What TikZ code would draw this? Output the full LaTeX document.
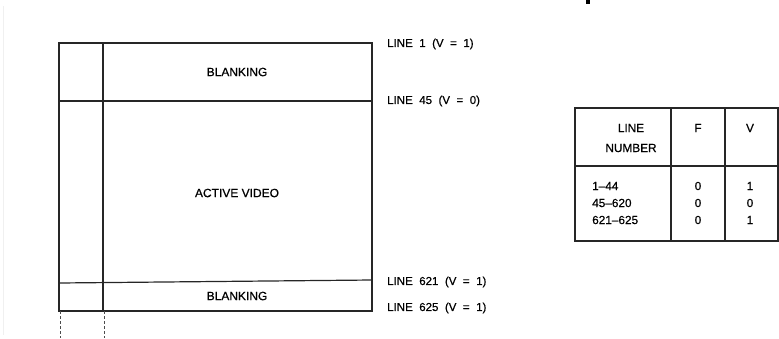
\documentclass[tikz,border=0pt]{standalone}
\usepackage{fontspec}
\setmainfont{Liberation Sans}
\newfontfamily\scanfont{Liberation Sans}[FakeBold=0.6,Ligatures=TeX]
\newcommand{\widespaces}{\spaceskip 6.5pt plus 1pt\relax}
\begin{document}
\begin{tikzpicture}[x=1pt,y=-1pt,
  frame/.style={line width=1.2pt,black!85},
  ext/.style={line width=1pt,black!70,dash pattern=on 3pt off 2pt},
  boxtext/.style={font={\scanfont\fontsize{12}{14}\selectfont},inner sep=0pt},
  linelabel/.style={font={\scanfont\fontsize{11.5}{14}\selectfont},inner sep=0pt,anchor=west},
  celltext/.style={font={\scanfont\fontsize{11.8}{14}\selectfont},inner sep=0pt}]
\useasboundingbox (0,0) rectangle (779,338);
% faint scan edge and cut-off glyph fragment
\draw[gray!12,line width=1pt] (3,6) -- (3,335);
\fill[black] (586,0) rectangle (590,4);
% frame diagram
\coordinate (tl) at (59,43);
\coordinate (br) at (372,311);
\draw[frame] (tl) rectangle (br);
\draw[frame] (59,101) -- (372,101);
\draw[frame] (59,283) -- (372,280);
\draw[frame] (103,43) -- (103,311);
\draw[ext] (60,311) -- (60,338);
\draw[ext] (104,311) -- (104,338);
\node[boxtext] (blank1) at (237,72) {BLANKING};
\node[boxtext] (active) at (237,193) {ACTIVE VIDEO};
\node[boxtext] (blank2) at (237,296) {BLANKING};
% labels
\node[linelabel] (l1) at (387,44) {\widespaces LINE 1 (V = 1)};
\node[linelabel] (l45) at (387,101) {\widespaces LINE 45 (V = 0)};
\node[linelabel] (l621) at (387,282) {\widespaces LINE 621 (V = 1)};
\node[linelabel] (l625) at (387,308) {\widespaces LINE 625 (V = 1)};
% table
\draw[frame] (575,108) rectangle (778,241);
\draw[frame] (575,166) -- (778,166);
\draw[frame] (671,108) -- (671,241);
\draw[frame] (725,108) -- (725,241);
\node[celltext] (h1) at (631,128) {LINE};
\node[celltext] (h2) at (631,148) {NUMBER};
\node[celltext] (hf) at (698,128) {F};
\node[celltext] (hv) at (750,128) {V};
\node[celltext,anchor=west] (r1) at (592,186) {1–44};
\node[celltext,anchor=west] (r2) at (592,203) {45–620};
\node[celltext,anchor=west] (r3) at (592,220) {621–625};
\node[celltext] (f1) at (698,186) {0};
\node[celltext] (f2) at (698,203) {0};
\node[celltext] (f3) at (698,220) {0};
\node[celltext] (v1) at (750,186) {1};
\node[celltext] (v2) at (750,203) {0};
\node[celltext] (v3) at (750,220) {1};
\end{tikzpicture}
\end{document}
